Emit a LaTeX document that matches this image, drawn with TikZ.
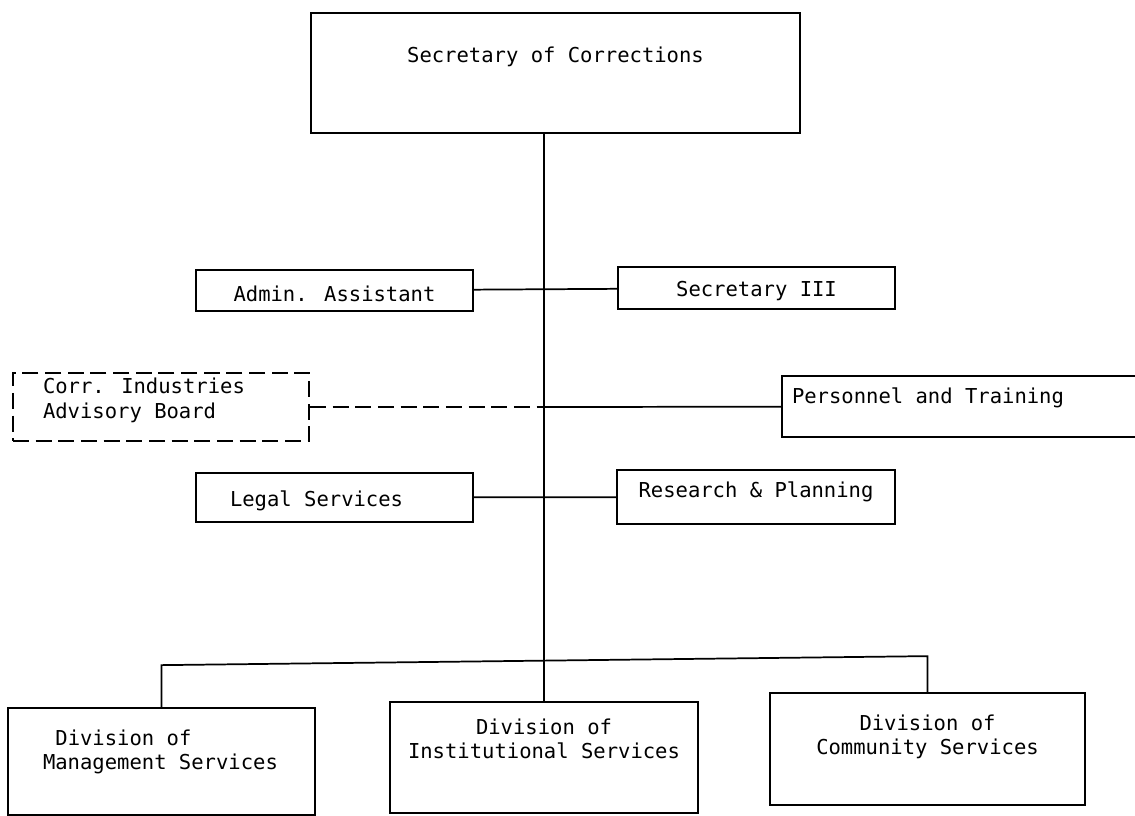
\documentclass[tikz,border=0pt]{standalone}
\usepackage{fontspec}
\newfontfamily\typewriter{DejaVu Sans Mono}
\usepackage{tikz}
\usetikzlibrary{calc}

\begin{document}
\begin{tikzpicture}[x=0.75pt, y=-0.75pt,
		block/.style={rectangle, draw=black, line width=1.3pt, inner sep=0pt, align=center, font=\typewriter\fontsize{15.4}{18}\selectfont},
		dblock/.style={block, dash pattern=on 12pt off 5pt},
		link/.style={line width=1.3pt},
		dlink/.style={link, dash pattern=on 12pt off 5pt}]
		
		\useasboundingbox (0,0) rectangle (1135,816);
		
		\node[block, minimum width=366.75pt, minimum height=90pt, text height=6pt, text depth=21pt] (sec) at (555.5, 73) {Secretary of Corrections};
		
		\node[block, minimum width=207.75pt, minimum height=30.75pt, text height=17.25pt, text depth=0pt] (admin) at (334.5, 290.5) {Admin. Assistant};
		\node[block, minimum width=207.75pt, minimum height=31.5pt, text height=13.5pt, text depth=0pt] (sec3) at (756.5, 288) {Secretary III};
		
		\node[dblock, minimum width=222pt, minimum height=51pt, text width=177pt, align=flush left, text height=2pt, text depth=21.5pt] (cib) at (161, 407) {Corr. Industries\\Advisory Board};
		\node[block, minimum width=283.5pt, minimum height=45.75pt, text width=268.5pt, align=flush left, text height=6pt, text depth=9.75pt] (pers) at (971, 406.5) {Personnel and Training};
		
		\node[block, minimum width=207.75pt, minimum height=36.75pt, text width=156.75pt, align=flush left, text height=12.75pt, text depth=0pt] (legal) at (334.5, 497.5) {Legal Services};
		\node[block, minimum width=208.5pt, minimum height=40.5pt, text height=8pt, text depth=8pt] (rnp) at (756, 497) {Research \& Planning};
		
		\node[block, minimum width=230.25pt, minimum height=80.25pt, text width=177.75pt, align=flush left, text height=2pt, text depth=26.75pt] (mgmt) at (161.5, 761.5) {\hspace*{9.3pt}Division of\\Management Services};
		\node[block, minimum width=231pt, minimum height=83.25pt, text height=8.4pt, text depth=7.6pt] (inst) at (544, 757.5) {Division of\\Institutional Services};
		\node[block, minimum width=236.25pt, minimum height=84pt, text height=11.75pt, text depth=4.25pt] (comm) at (927.5, 749) {Division of\\Community Services};
		
		% main line down from the secretary
		\draw[link] (sec.south -| inst.north) -- (inst.north);
		
		\draw (admin) edge[link] (sec3);
		\draw (cib) edge[dlink] (cib -| inst.north);
		\draw (cib -| inst.north) edge[link] (pers);
		\draw (legal) edge[link] (rnp);
		
		\coordinate (busL) at ($(mgmt.north)+(0,-42)$);
		\coordinate (busR) at ($(comm.north)+(0,-36)$);
		\draw[link] (mgmt.north) -- (busL) -- (busR) -- (comm.north);
		
	\end{tikzpicture}
\end{document}
